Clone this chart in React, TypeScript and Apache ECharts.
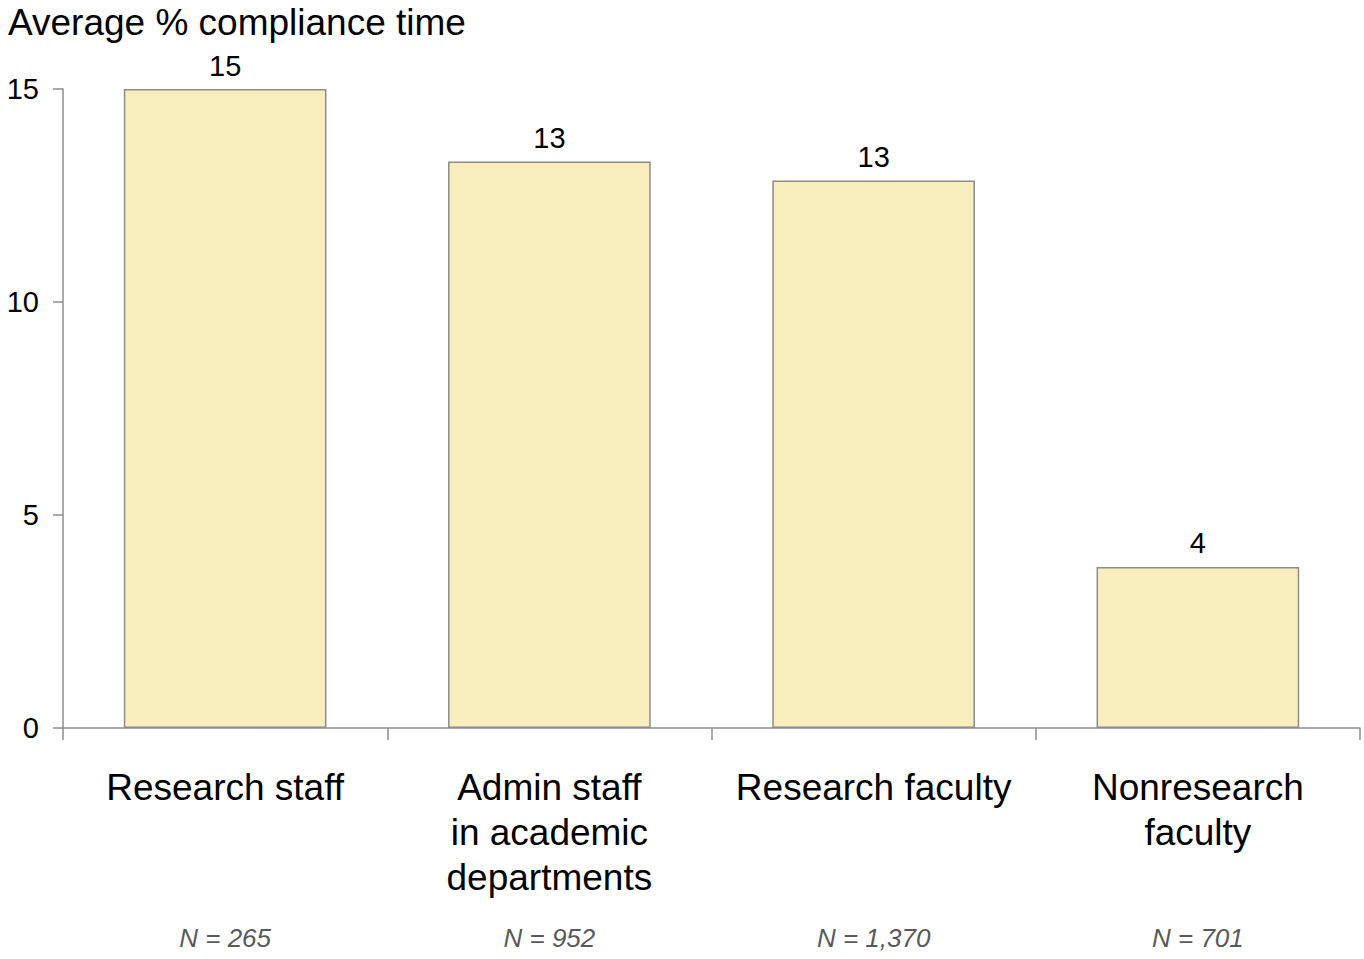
import React, { useEffect, useRef } from "react";
import * as echarts from "echarts";

const categories = ["Research staff", "Admin staff\nin academic\ndepartments", "Research faculty", "Nonresearch\nfaculty"];
const values = [15.0, 13.3, 12.85, 3.78];
const sampleSizes = ["N = 265", "N = 952", "N = 1,370", "N = 701"];
const yTicks = { min: 0, max: 15, interval: 5 };
const titleText = "Average % compliance time";

export default function App() {
  const ref = useRef<HTMLDivElement>(null);
  useEffect(() => {
    if (!ref.current) return;
    const chart = echarts.init(ref.current, undefined, { renderer: "svg" });
    const font = "Liberation Sans, Arial, sans-serif";
    chart.setOption({
      animation: false,
      backgroundColor: "#ffffff",
      title: {
        text: titleText,
        left: 3,
        top: -1,
        textStyle: { fontFamily: font, fontSize: 37, fontWeight: "normal", color: "#000" },
      },
      grid: { left: 63, right: 4, top: 89, bottom: 231, containLabel: false },
      xAxis: [
        {
          type: "category",
          data: categories,
          axisLine: { show: true, lineStyle: { color: "#8c8c8c", width: 1.5 } },
          axisTick: { show: true, length: 12, lineStyle: { color: "#8c8c8c", width: 1.5 } },
          axisLabel: {
            color: "#000",
            fontFamily: font,
            fontSize: 37,
            lineHeight: 45,
            margin: 37,
            interval: 0,
          },
        },
        {
          type: "category",
          data: sampleSizes,
          position: "bottom",
          axisLine: { show: false },
          axisTick: { show: false },
          axisLabel: {
            color: "#595959",
            fontFamily: font,
            fontSize: 26,
            fontStyle: "italic",
            lineHeight: 30,
            margin: 195,
            interval: 0,
          },
        },
      ],
      yAxis: {
        type: "value",
        min: yTicks.min,
        max: yTicks.max,
        interval: yTicks.interval,
        splitLine: { show: false },
        axisLine: { show: true, lineStyle: { color: "#8c8c8c", width: 1.5 } },
        axisTick: { show: true, length: 10, lineStyle: { color: "#8c8c8c", width: 1.5 } },
        axisLabel: { color: "#000", fontFamily: font, fontSize: 29, margin: 24 },
      },
      series: [
        {
          type: "bar",
          xAxisIndex: 0,
          data: values,
          barCategoryGap: "37.5%",
          itemStyle: { color: "#f8edbd", borderColor: "#8c8c8c", borderWidth: 1.5 },
          label: {
            show: true,
            position: "top",
            distance: 9,
            color: "#000",
            fontFamily: font,
            fontSize: 29,
            formatter: (p: any) => String(Math.round(p.value)),
          },
        },
      ],
    });
    return () => chart.dispose();
  }, []);
  return (
    <div
      ref={ref}
      style={{ position: "absolute", left: 0, top: 0, width: 1364, height: 959, background: "#fff" }}
    />
  );
}
